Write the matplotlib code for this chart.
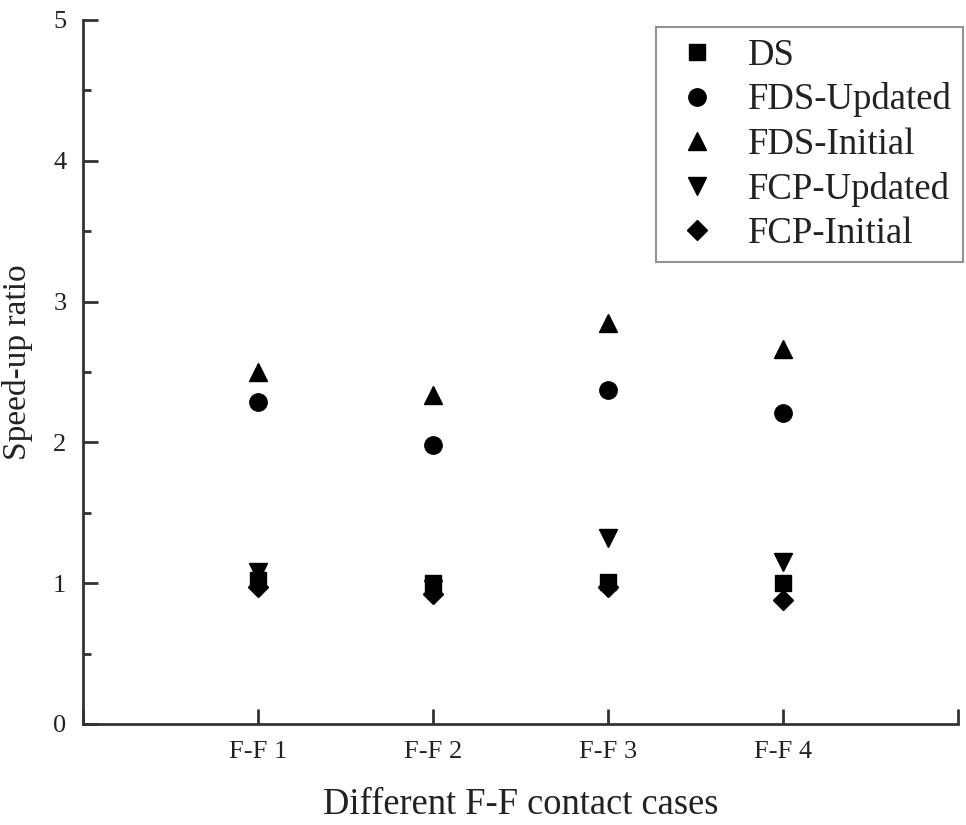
import matplotlib
matplotlib.use("Agg")
import matplotlib.pyplot as plt
from matplotlib.ticker import MultipleLocator, FixedLocator

plt.rcParams['font.family'] = ['Liberation Serif', 'DejaVu Serif']

# data
cases = ["F-F 1", "F-F 2", "F-F 3", "F-F 4"]
ds = [1.02, 1.00, 1.01, 1.00]
fds_updated = [2.29, 1.98, 2.37, 2.21]
fds_initial = [2.50, 2.34, 2.85, 2.66]
fcp_updated = [1.08, 0.96, 1.32, 1.15]
fcp_initial = [0.97, 0.92, 0.97, 0.88]

series = [
    ("DS", ds, "s", 11),
    ("FDS-Updated", fds_updated, "o", 12.5),
    ("FDS-Initial", fds_initial, "^", 13.5),
    ("FCP-Updated", fcp_updated, "v", 13.5),
    ("FCP-Initial", fcp_initial, "D", 10),
]

fig = plt.figure(figsize=(9.66, 8.25), dpi=100)
ax = fig.add_axes([83/966, 101/825, 875/966, 704/825])

xpos = list(range(1, len(cases) + 1))
for label, vals, mk, ms in series:
    ax.plot(xpos, vals, linestyle="none", marker=mk, markersize=ms,
            color="black", label=label)

ax.set_xlim(0, 5)
ax.set_ylim(0, 5)

ax.xaxis.set_major_locator(FixedLocator([0, 1, 2, 3, 4, 5]))
ax.set_xticklabels(["", "F-F 1", "F-F 2", "F-F 3", "F-F 4", ""])
ax.yaxis.set_major_locator(MultipleLocator(1))
ax.yaxis.set_minor_locator(MultipleLocator(0.5))

ax.spines["top"].set_visible(False)
ax.spines["right"].set_visible(False)
for s in ["left", "bottom"]:
    ax.spines[s].set_linewidth(2)
    ax.spines[s].set_color("#333333")

ax.tick_params(axis="both", which="major", direction="in", length=11, width=2,
               color="#333333", labelsize=19, labelcolor="#222222")
ax.tick_params(axis="y", which="minor", direction="in", length=5.5, width=2,
               color="#333333")
ax.tick_params(axis="y", which="major", pad=12)
ax.tick_params(axis="x", which="major", pad=12)

ax.set_xlabel("Different F-F contact cases", fontsize=26.3, color="#222222", labelpad=18)
ax.set_ylabel("Speed-up ratio", fontsize=24, color="#222222")
ax.yaxis.set_label_coords(-0.057, 0.514)

leg = ax.legend(loc="upper right", bbox_to_anchor=(963/966, (825-27)/825),
                bbox_transform=fig.transFigure, borderaxespad=0,
                fontsize=26.5, frameon=True, fancybox=False, handletextpad=0.6,
                labelspacing=0.27, handlelength=1.6, borderpad=0.3)
leg.get_frame().set_edgecolor("#777777")
leg.get_frame().set_linewidth(1.5)
for t in leg.get_texts():
    t.set_color("#222222")

fig.savefig("out.png", dpi=100, facecolor="white")
